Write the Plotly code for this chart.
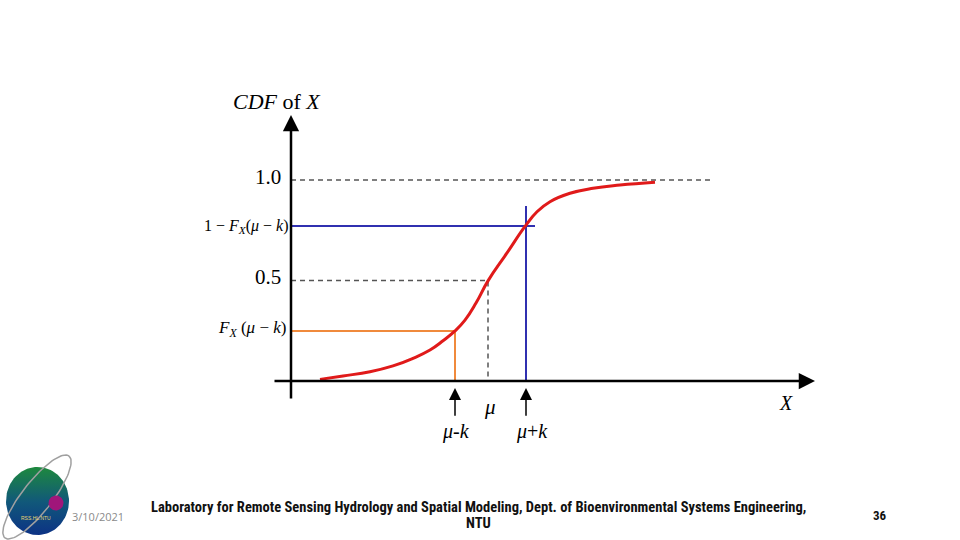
import numpy as np
import plotly.graph_objects as go

# ---- data (diagram units: x arbitrary, y = CDF value) ----
curve_x = [0.29, 0.52, 0.79, 1.02, 1.22, 1.39, 1.52, 1.64, 1.74, 1.85, 1.97, 2.16, 2.34, 2.46, 2.59, 2.79, 3.02, 3.29, 3.64]
curve_y = [0.008, 0.025, 0.046, 0.075, 0.113, 0.154, 0.200, 0.249, 0.303, 0.388, 0.498, 0.637, 0.769, 0.842, 0.892, 0.934, 0.959, 0.975, 0.989]
mu_minus_k = 1.64
mu = 1.97
mu_plus_k = 2.35
F_low = 0.249
F_high = 0.771
half = 0.5
one = 1.0
x_axis_start, x_axis_end = -0.18, 5.24
y_axis_bottom, y_axis_top = -0.095, 1.323
one_line_end = 4.22
blue_h_end = 2.44
blue_v_top = 0.871

ytick_labels = ["1.0", "0.5"]
ytick_vals = [one, half]
xtick_labels = ["<i>μ</i>-<i>k</i>", "<i>μ</i>+<i>k</i>"]
xtick_vals = [mu_minus_k, mu_plus_k]

# pixel mapping of axes (full figure)
X0, X1 = -2.91, 6.69
Y0, Y1 = -159 / 201, 381 / 201

serif = "Liberation Serif, Times New Roman, serif"
blue = "#3030b0"
orange = "#f08a3c"
red = "#e01a1a"
dash_c = "#555555"

fig = go.Figure()

def line(xs, ys, color, width, dash="solid"):
    fig.add_trace(go.Scatter(x=xs, y=ys, mode="lines", hoverinfo="skip",
                             line=dict(color=color, width=width, dash=dash), showlegend=False))

# dashed reference lines
line([0, one_line_end], [one, one], dash_c, 1.5, "5px,4px")
line([0, mu, mu], [half, half, 0], dash_c, 1.5, "5px,4px")
# orange
line([0, mu_minus_k, mu_minus_k], [F_low, F_low, 0], orange, 2)
# blue
line([0, blue_h_end], [F_high, F_high], blue, 2)
line([mu_plus_k, mu_plus_k], [blue_v_top, 0], blue, 2)
# curve
fig.add_trace(go.Scatter(x=curve_x, y=curve_y, mode="lines", hoverinfo="skip",
                         line=dict(color=red, width=3, shape="spline", smoothing=1.3), showlegend=False))

# axes with arrows
fig.add_annotation(x=x_axis_end, y=0, ax=x_axis_start, ay=0, xref="x", yref="y", axref="x", ayref="y",
                   showarrow=True, arrowhead=2, arrowsize=1.3, arrowwidth=2.5, arrowcolor="black", text="")
fig.add_annotation(x=0, y=y_axis_top, ax=0, ay=y_axis_bottom, xref="x", yref="y", axref="x", ayref="y",
                   showarrow=True, arrowhead=2, arrowsize=1.3, arrowwidth=2.5, arrowcolor="black", text="")
# small arrows under the x axis
for xv in xtick_vals:
    fig.add_annotation(x=xv, y=-0.035, ax=xv, ay=-0.18, xref="x", yref="y", axref="x", ayref="y",
                       showarrow=True, arrowhead=2, arrowsize=1.6, arrowwidth=1.5, arrowcolor="black", text="")

def txt(x, y, s, size=20, xanchor="center", color="black"):
    fig.add_annotation(x=x, y=y, xref="x", yref="y", text=s, showarrow=False, xanchor=xanchor,
                       yanchor="middle", font=dict(family=serif, size=size, color=color))

txt(-0.14, (381 - 101) / 201, "<i>CDF</i> of <i>X</i>", 22)
for v, s in zip(ytick_vals, ytick_labels):
    txt(-0.08, v + 0.015, s, 21, "right")
txt(-0.01, F_high, "1 − <i>F</i><sub><i>X</i></sub>(<i>μ</i> − <i>k</i>)", 16, "right")
txt(-0.03, F_low + 0.01, "<i>F</i><sub><i>X</i></sub> (<i>μ</i> − <i>k</i>)", 17, "right")
txt(mu + 0.02, -0.13, "<i>μ</i>", 21)
txt(4.95, -0.11, "<i>X</i>", 20)
for v, s in zip(xtick_vals, xtick_labels):
    txt(v + (0.01 if v < mu else 0.06), -0.25, s, 20)

# ---- logo (pixel-space overlay axes) ----
t = np.linspace(0, 2 * np.pi, 100)
cx, cy, rx, ry = 37.5, 501, 31.5, 34
fig.add_trace(go.Scatter(x=cx + rx * np.cos(t), y=cy + ry * np.sin(t), xaxis="x2", yaxis="y2",
                         mode="lines", line=dict(width=0), fill="toself", hoverinfo="skip", showlegend=False,
                         fillgradient=dict(type="vertical", start=538, stop=466,
                                           colorscale=[[0, "#0c2f86"], [0.5, "#11587a"], [1, "#1e8a3c"]])))
ang = np.deg2rad(-52)
a, b = 52, 15
ex = 37 + a * np.cos(t) * np.cos(ang) - b * np.sin(t) * np.sin(ang)
ey = 497 + a * np.cos(t) * np.sin(ang) + b * np.sin(t) * np.cos(ang)
fig.add_trace(go.Scatter(x=ex, y=ey, xaxis="x2", yaxis="y2", mode="lines",
                         line=dict(color="#a0a0a0", width=1.5), hoverinfo="skip", showlegend=False))
fig.add_trace(go.Scatter(x=56 + 7.5 * np.cos(t), y=503 + 7.5 * np.sin(t), xaxis="x2", yaxis="y2",
                         mode="lines", line=dict(width=0), fill="toself", fillcolor="#a0167a",
                         hoverinfo="skip", showlegend=False))
fig.add_annotation(x=36, y=518, xref="x2", yref="y2", text="RSS.HL.NTU", showarrow=False,
                   font=dict(family="Liberation Sans", size=5, color="#e8d870"))

# ---- footer ----
foot = "Liberation Sans Narrow, Roboto Condensed, Liberation Sans, sans-serif"
def ftxt(px, py, s, size, color="#111111", family=foot):
    fig.add_annotation(x=px / 960, y=1 - py / 540, xref="paper", yref="paper", text=s,
                       xanchor="center", yanchor="middle", showarrow=False,
                       font=dict(family=family, size=size, color=color))

ftxt(98, 516, "3/10/2021", 11, "#8a8a8a", "Open Sans")
ftxt(478, 507, "<b>Laboratory for Remote Sensing Hydrology and Spatial Modeling, Dept. of Bioenvironmental Systems Engineering,</b>", 14.5)
ftxt(478, 523, "<b>NTU</b>", 14.5)
ftxt(880, 515, "<b>36</b>", 13)

fig.update_layout(
    width=960, height=540, margin=dict(l=0, r=0, t=0, b=0),
    paper_bgcolor="white", plot_bgcolor="white",
    xaxis=dict(range=[X0, X1], visible=False, domain=[0, 1]),
    yaxis=dict(range=[Y0, Y1], visible=False, domain=[0, 1]),
    xaxis2=dict(range=[0, 960], visible=False, overlaying="x", domain=[0, 1]),
    yaxis2=dict(range=[540, 0], visible=False, overlaying="y", domain=[0, 1]),
)
fig.write_html("out.html", config={"displayModeBar": False},
               post_script="document.body.style.margin='0';")
